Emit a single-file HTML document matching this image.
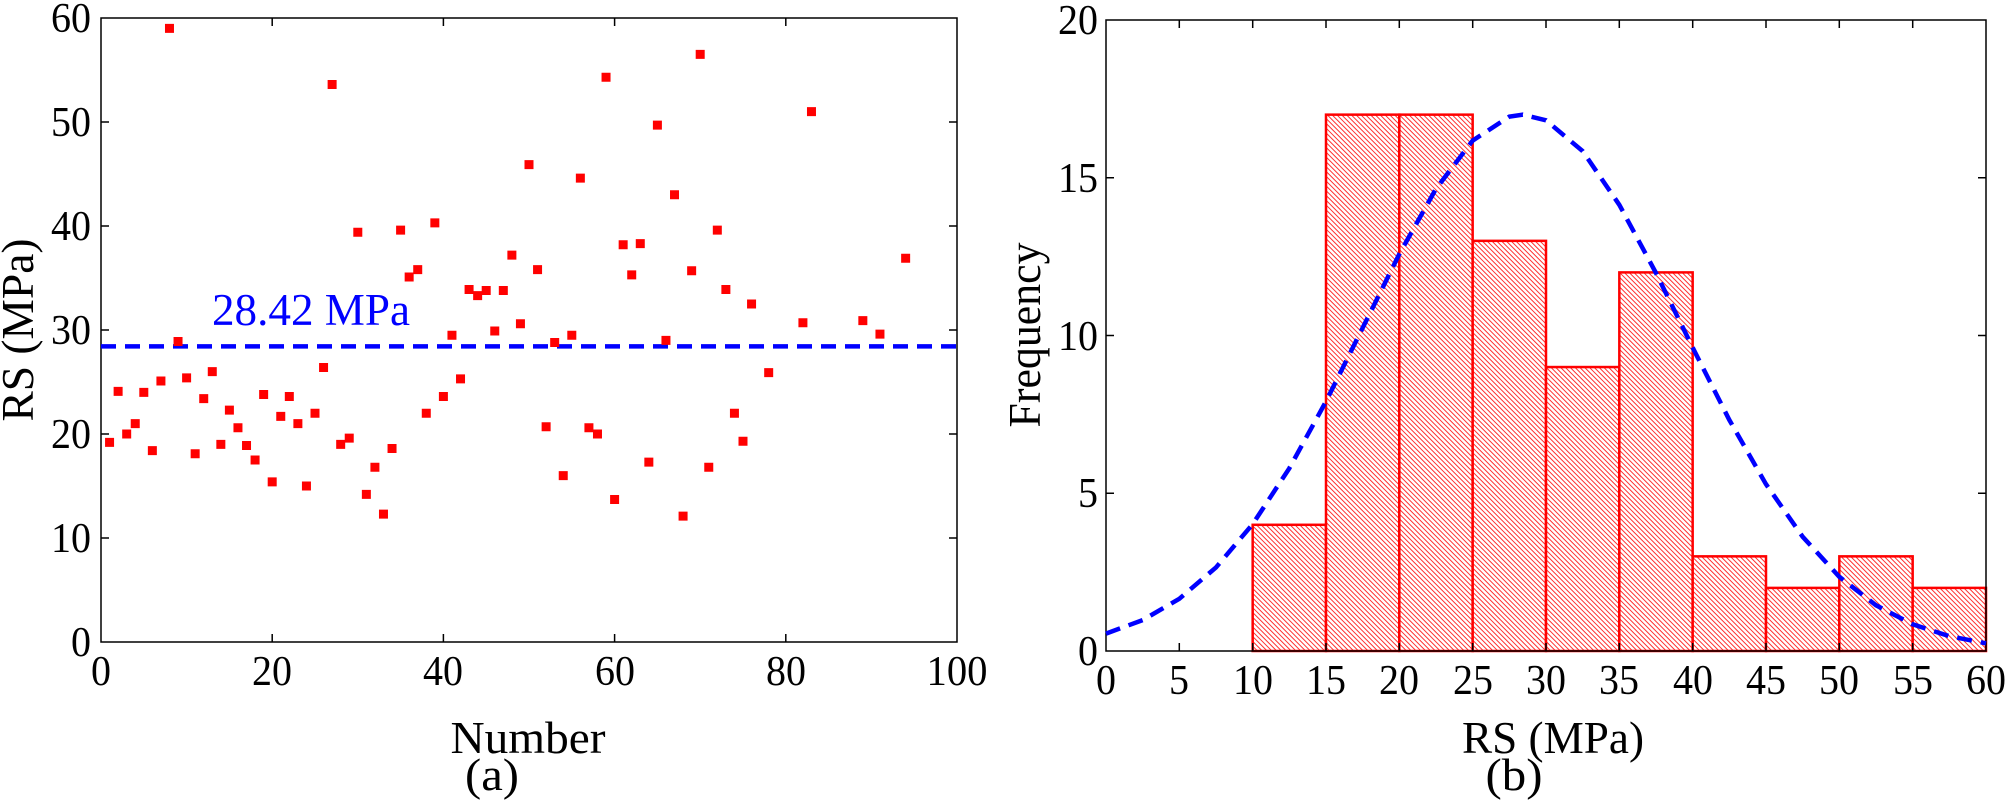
<!DOCTYPE html>
<html><head><meta charset="utf-8"><style>
html,body{margin:0;padding:0;background:#fff;}
svg, svg text{font-family:"Liberation Serif","Times New Roman",Times,serif;}
svg{display:block;}
</style></head><body>
<svg width="2008" height="809" viewBox="0 0 2008 809" xmlns="http://www.w3.org/2000/svg" font-family="Liberation Serif, Times New Roman, Times, serif">
<defs>
<pattern id="h" width="3.4" height="3.4" patternUnits="userSpaceOnUse" patternTransform="rotate(-45)">
<rect width="3.4" height="3.4" fill="#fff"/>
<line x1="0.5" y1="0" x2="0.5" y2="3.4" stroke="#f00" stroke-width="0.8"/>
</pattern>
</defs>
<!-- LEFT PLOT -->
<g stroke="#000" stroke-width="1.5" fill="none">
<rect x="101" y="18" width="856" height="624"/>
<path d="M272.2 642v-8M443.4 642v-8M614.6 642v-8M785.8 642v-8M272.2 18v8M443.4 18v8M614.6 18v8M785.8 18v8
M101 538h8M101 434h8M101 330h8M101 226h8M101 122h8M957 538h-8M957 434h-8M957 330h-8M957 226h-8M957 122h-8"/>
</g>
<g font-size="42" fill="#000" text-anchor="middle" lengthAdjust="spacingAndGlyphs">
<text x="101" y="685" textLength="20" lengthAdjust="spacingAndGlyphs">0</text><text x="272" y="685" textLength="40" lengthAdjust="spacingAndGlyphs">20</text><text x="443" y="685" textLength="40" lengthAdjust="spacingAndGlyphs">40</text><text x="615" y="685" textLength="40" lengthAdjust="spacingAndGlyphs">60</text><text x="786" y="685" textLength="40" lengthAdjust="spacingAndGlyphs">80</text><text x="957" y="685" textLength="61" lengthAdjust="spacingAndGlyphs">100</text>
</g>
<g font-size="42" fill="#000" text-anchor="end">
<text x="91" y="656" textLength="20" lengthAdjust="spacingAndGlyphs">0</text><text x="91" y="552" textLength="40" lengthAdjust="spacingAndGlyphs">10</text><text x="91" y="448" textLength="40" lengthAdjust="spacingAndGlyphs">20</text><text x="91" y="344" textLength="40" lengthAdjust="spacingAndGlyphs">30</text><text x="91" y="240" textLength="40" lengthAdjust="spacingAndGlyphs">40</text><text x="91" y="136" textLength="40" lengthAdjust="spacingAndGlyphs">50</text><text x="91" y="32" textLength="40" lengthAdjust="spacingAndGlyphs">60</text>
</g>
<text x="528" y="753" font-size="46" text-anchor="middle" textLength="155" lengthAdjust="spacingAndGlyphs">Number</text>
<text x="492" y="790" font-size="46" text-anchor="middle" textLength="54" lengthAdjust="spacingAndGlyphs">(a)</text>
<text transform="translate(33,330) rotate(-90)" font-size="46" text-anchor="middle" textLength="183" lengthAdjust="spacingAndGlyphs">RS (MPa)</text>
<line x1="101" y1="346.4" x2="957" y2="346.4" stroke="#00f" stroke-width="4.5" stroke-dasharray="15 9"/>
<text x="212" y="325" font-size="45" fill="#00f" textLength="198" lengthAdjust="spacingAndGlyphs">28.42 MPa</text>
<g transform="translate(101,642) scale(8.56,-10.4)">
<path vector-effect="non-scaling-stroke" stroke="#f00" stroke-width="9" stroke-linecap="square" fill="none"
d="M1 19.2h0M2 24.1h0M3 20h0M4 21h0M5 24h0M6 18.4h0M7 25.1h0M8 59h0M9 28.9h0M10 25.4h0M11 18.1h0M12 23.4h0M13 26h0M14 19h0M15 22.3h0M16 20.6h0M17 18.9h0M18 17.5h0M19 23.8h0M20 15.4h0M21 21.7h0M22 23.6h0M23 21h0M24 15h0M25 22h0M26 26.4h0M27 53.6h0M28 19h0M29 19.6h0M30 39.4h0M31 14.2h0M32 16.8h0M33 12.3h0M34 18.6h0M35 39.6h0M36 35.1h0M37 35.8h0M38 22h0M39 40.3h0M40 23.6h0M41 29.5h0M42 25.3h0M43 33.9h0M44 33.3h0M45 33.8h0M46 29.9h0M47 33.8h0M48 37.2h0M49 30.6h0M50 45.9h0M51 35.8h0M52 20.7h0M53 28.8h0M54 16h0M55 29.5h0M56 44.6h0M57 20.6h0M58 20h0M59 54.3h0M60 13.7h0M61 38.2h0M62 35.3h0M63 38.3h0M64 17.3h0M65 49.7h0M66 29h0M67 43h0M68 12.1h0M69 35.7h0M70 56.5h0M71 16.8h0M72 39.6h0M73 33.9h0M74 22h0M75 19.3h0M76 32.5h0M78 25.9h0M82 30.7h0M83 51h0M89 30.9h0M91 29.6h0M94 36.9h0"/>
</g>
<!-- RIGHT PLOT -->
<g stroke="#f00" stroke-width="2.5" fill="url(#h)">
<rect x="1252.67" y="524.8" width="73.33" height="126.2"/>
<rect x="1326" y="114.65" width="73.33" height="536.35"/>
<rect x="1399.33" y="114.65" width="73.33" height="536.35"/>
<rect x="1472.67" y="240.85" width="73.33" height="410.15"/>
<rect x="1546" y="367.05" width="73.33" height="283.95"/>
<rect x="1619.33" y="272.4" width="73.33" height="378.6"/>
<rect x="1692.67" y="556.35" width="73.33" height="94.65"/>
<rect x="1766" y="587.9" width="73.33" height="63.1"/>
<rect x="1839.33" y="556.35" width="73.33" height="94.65"/>
<rect x="1912.67" y="587.9" width="73.33" height="63.1"/>
</g>
<g stroke="#000" stroke-width="1.5" fill="none">
<rect x="1106" y="20" width="880" height="631"/>
<path d="M1179.3 651v-8M1252.7 651v-8M1326 651v-8M1399.3 651v-8M1472.7 651v-8M1546 651v-8M1619.3 651v-8M1692.7 651v-8M1766 651v-8M1839.3 651v-8M1912.7 651v-8
M1179.3 20v8M1252.7 20v8M1326 20v8M1399.3 20v8M1472.7 20v8M1546 20v8M1619.3 20v8M1692.7 20v8M1766 20v8M1839.3 20v8M1912.7 20v8
M1106 493.25h8M1106 335.5h8M1106 177.75h8M1986 493.25h-8M1986 335.5h-8M1986 177.75h-8"/>
</g>
<polyline fill="none" stroke="#00f" stroke-width="4.5" stroke-dasharray="15 9" points="1106,633.6 1142.7,620.1 1179.3,598.8 1216,567.4 1252.7,524.1 1289.3,468.3 1326,401.4 1362.7,327.8 1399.3,254.1 1436,188.8 1472.7,140.6 1509.3,116.6 1522.8,114.7 1546,120.3 1582.7,151.2 1619.3,204.8 1656,273 1692.7,347.6 1729.3,419.9 1766,484.2 1802.7,536.8 1839.3,576.8 1876,605.3 1912.7,624.3 1949.3,636.2 1986,643.3"/>
<g font-size="42" fill="#000" text-anchor="middle">
<text x="1106" y="694" textLength="20" lengthAdjust="spacingAndGlyphs">0</text><text x="1179" y="694" textLength="20" lengthAdjust="spacingAndGlyphs">5</text><text x="1253" y="694" textLength="40" lengthAdjust="spacingAndGlyphs">10</text><text x="1326" y="694" textLength="40" lengthAdjust="spacingAndGlyphs">15</text><text x="1399" y="694" textLength="40" lengthAdjust="spacingAndGlyphs">20</text><text x="1473" y="694" textLength="40" lengthAdjust="spacingAndGlyphs">25</text><text x="1546" y="694" textLength="40" lengthAdjust="spacingAndGlyphs">30</text><text x="1619" y="694" textLength="40" lengthAdjust="spacingAndGlyphs">35</text><text x="1693" y="694" textLength="40" lengthAdjust="spacingAndGlyphs">40</text><text x="1766" y="694" textLength="40" lengthAdjust="spacingAndGlyphs">45</text><text x="1839" y="694" textLength="40" lengthAdjust="spacingAndGlyphs">50</text><text x="1913" y="694" textLength="40" lengthAdjust="spacingAndGlyphs">55</text><text x="1986" y="694" textLength="40" lengthAdjust="spacingAndGlyphs">60</text>
</g>
<g font-size="42" fill="#000" text-anchor="end">
<text x="1098" y="665" textLength="20" lengthAdjust="spacingAndGlyphs">0</text><text x="1098" y="507" textLength="20" lengthAdjust="spacingAndGlyphs">5</text><text x="1098" y="350" textLength="40" lengthAdjust="spacingAndGlyphs">10</text><text x="1098" y="192" textLength="40" lengthAdjust="spacingAndGlyphs">15</text><text x="1098" y="34" textLength="40" lengthAdjust="spacingAndGlyphs">20</text>
</g>
<text x="1553" y="753" font-size="46" text-anchor="middle" textLength="182" lengthAdjust="spacingAndGlyphs">RS (MPa)</text>
<text x="1514" y="790" font-size="46" text-anchor="middle" textLength="57" lengthAdjust="spacingAndGlyphs">(b)</text>
<text transform="translate(1040,335) rotate(-90)" font-size="46" text-anchor="middle" textLength="185" lengthAdjust="spacingAndGlyphs">Frequency</text>
</svg>
</body></html>
